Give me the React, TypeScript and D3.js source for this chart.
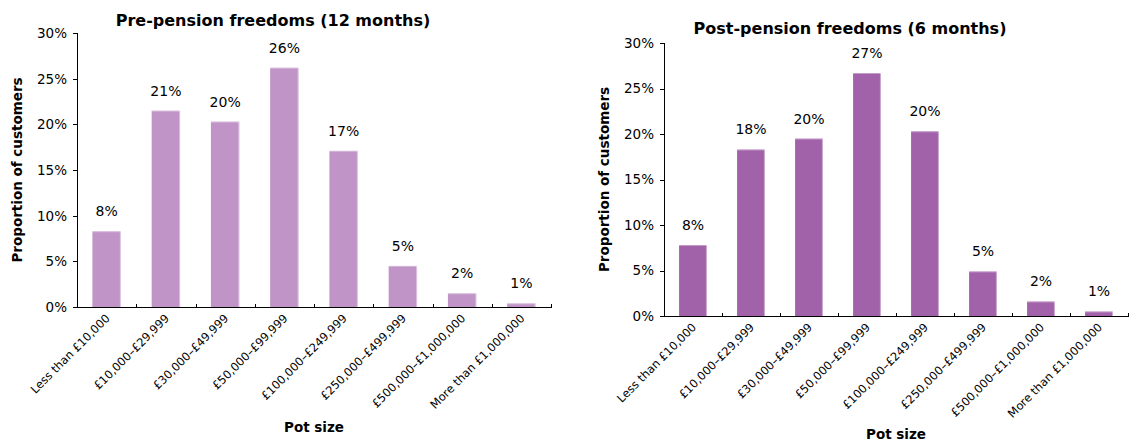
import React from "react";
import * as d3 from "d3";

const categories = [
  "Less than £10,000",
  "£10,000–£29,999",
  "£30,000–£49,999",
  "£50,000–£99,999",
  "£100,000–£249,999",
  "£250,000–£499,999",
  "£500,000–£1,000,000",
  "More than £1,000,000",
];
const preValues = [8.3, 21.5, 20.3, 26.2, 17.1, 4.5, 1.5, 0.4];
const preLabels = ["8%", "21%", "20%", "26%", "17%", "5%", "2%", "1%"];
const postValues = [7.8, 18.3, 19.5, 26.7, 20.3, 4.9, 1.6, 0.5];
const postLabels = ["8%", "18%", "20%", "27%", "20%", "5%", "2%", "1%"];
const yTicks = [0, 5, 10, 15, 20, 25, 30];

const FONT = "Verdana, 'DejaVu Sans', sans-serif";

type PanelProps = {
  title: string;
  values: number[];
  labels: string[];
  color: string;
  x0: number;
  x1: number;
  yTop: number;
  yBottom: number;
  titleX: number;
  titleY: number;
  yLabelX: number;
  xLabelY: number;
};

function Panel(p: PanelProps) {
  const x = d3.scaleBand<string>().domain(categories).range([p.x0, p.x1]).paddingInner(0.52).paddingOuter(0.26);
  const xb = d3.scaleBand<string>().domain(categories).range([p.x0, p.x1]);
  const y = d3.scaleLinear().domain([0, 30]).range([p.yBottom, p.yTop]);
  const midY = (p.yTop + p.yBottom) / 2;
  return (
    <g fontFamily={FONT}>
      <text x={p.titleX} y={p.titleY} textAnchor="middle" fontWeight="bold" fontSize={16} fill="#000">
        {p.title}
      </text>
      {categories.map((c, i) => {
        const bx = x(c)!;
        const bw = x.bandwidth();
        const top = y(p.values[i]);
        return (
          <g key={c}>
            <rect x={bx} y={top} width={bw} height={p.yBottom - top} fill={p.color} />
            <line x1={bx + bw - 0.5} x2={bx + bw - 0.5} y1={top} y2={p.yBottom} stroke="#fff" strokeOpacity={0.45} />
            <line x1={bx} x2={bx + bw} y1={top + 0.5} y2={top + 0.5} stroke="#fff" strokeOpacity={0.35} />
            <text x={bx + bw / 2} y={top - 15} textAnchor="middle" fontSize={14} fill="#000">
              {p.labels[i]}
            </text>
          </g>
        );
      })}
      {/* y axis */}
      <line x1={p.x0 + 0.5} x2={p.x0 + 0.5} y1={p.yTop} y2={p.yBottom} stroke="#000" />
      {yTicks.map((t) => (
        <g key={t}>
          <line x1={p.x0 - 4} x2={p.x0} y1={Math.round(y(t)) + 0.5} y2={Math.round(y(t)) + 0.5} stroke="#000" />
          <text x={p.x0 - 10} y={y(t)} dy="0.36em" textAnchor="end" fontSize={13.5} fill="#000">
            {t}%
          </text>
        </g>
      ))}
      {/* x axis */}
      <line x1={p.x0} x2={p.x1 + 1} y1={p.yBottom + 0.5} y2={p.yBottom + 0.5} stroke="#000" />
      {categories.map((c) => {
        const xt = xb(c)! + xb.bandwidth();
        return (
          <line key={"t" + c} x1={Math.round(xt) + 0.5} x2={Math.round(xt) + 0.5} y1={p.yBottom - 3} y2={p.yBottom + 1} stroke="#000" />
        );
      })}
      {categories.map((c) => {
        const cx = xb(c)! + xb.bandwidth() / 2 + 4;
        const cy = p.yBottom + 12;
        return (
          <text key={"l" + c} transform={`translate(${cx},${cy}) rotate(-45)`} textAnchor="end" fontSize={11.5} fill="#000">
            {c}
          </text>
        );
      })}
      <text
        transform={`translate(${p.yLabelX},${midY}) rotate(-90)`}
        textAnchor="middle"
        fontWeight="bold"
        fontSize={13.5}
        fill="#000"
      >
        Proportion of customers
      </text>
      <text x={(p.x0 + p.x1) / 2} y={p.xLabelY} textAnchor="middle" fontWeight="bold" fontSize={13.5} fill="#000">
        Pot size
      </text>
    </g>
  );
}

export default function App() {
  return (
    <svg width={1135} height={441} style={{ position: "absolute", left: 0, top: 0, background: "#fff" }}>
      <rect width={1135} height={441} fill="#fff" />
      <Panel
        title="Pre-pension freedoms (12 months)"
        values={preValues}
        labels={preLabels}
        color="#c094c7"
        x0={77}
        x1={551}
        yTop={33}
        yBottom={307}
        titleX={273}
        titleY={26}
        yLabelX={22}
        xLabelY={432}
      />
      <Panel
        title="Post-pension freedoms (6 months)"
        values={postValues}
        labels={postLabels}
        color="#a262aa"
        x0={664}
        x1={1128}
        yTop={43}
        yBottom={316}
        titleX={850}
        titleY={34}
        yLabelX={609}
        xLabelY={439}
      />
    </svg>
  );
}
